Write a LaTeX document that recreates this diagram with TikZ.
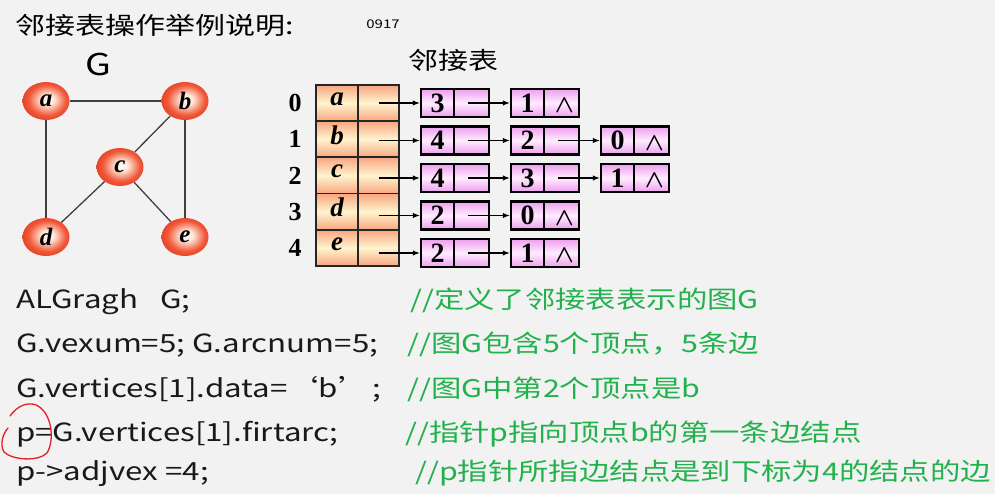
\documentclass[tikz,border=0pt]{standalone}
\usepackage{fontspec}
\setmainfont{Liberation Serif}
\newfontfamily\cjk[FakeStretch=1.25]{Noto Sans CJK SC}
\newfontfamily\tms{Liberation Serif}
\usetikzlibrary{arrows.meta,shapes.geometric}
\definecolor{bg}{RGB}{243,242,242}
\definecolor{vred}{RGB}{240,88,56}
\definecolor{vedge}{RGB}{232,72,44}
\definecolor{vlight}{RGB}{255,228,214}
\definecolor{tabout}{RGB}{248,166,128}
\definecolor{tabin}{RGB}{255,244,206}
\definecolor{pinkout}{RGB}{238,158,238}
\definecolor{pinkin}{RGB}{255,236,255}
\definecolor{cgreen}{RGB}{34,177,76}
\definecolor{annot}{RGB}{230,30,40}
\pgfdeclareradialshading{vball}{\pgfpoint{2bp}{2bp}}{color(0bp)=(white); color(7bp)=(vlight); color(20bp)=(vred); color(25bp)=(vedge); color(50bp)=(vedge)}
\begin{document}
\begin{tikzpicture}[x=1pt,y=-1pt,
  vtx/.style={ellipse, minimum width=47pt, minimum height=38pt, inner sep=0pt, shading=vball, font=\tms\bfseries\itshape\fontsize{25}{25}\selectfont},
  gedge/.style={draw=black!75, line width=1.3pt},
  tcell/.style={draw=black!85, line width=1.8pt, minimum height=36.2pt, inner sep=0pt, shading=axis, top color=tabout, bottom color=tabout, middle color=tabin},
  tlet/.style={inner sep=0pt, font=\tms\bfseries\itshape\fontsize{27}{27}\selectfont},
  idx/.style={inner sep=0pt, font=\tms\bfseries\fontsize{26}{26}\selectfont},
  ecell/.style={draw=black, line width=2.4pt, minimum height=28pt, inner sep=0pt, shading=axis, top color=pinkout, bottom color=pinkout, middle color=pinkin, font=\tms\bfseries\fontsize{28}{28}\selectfont},
  ptr/.style={draw=black, line width=1.2pt, -{Latex[length=7pt,width=5.5pt]}},
  nilsym/.style={inner sep=0pt, font=\boldmath\fontsize{24}{24}\selectfont},
  code/.style={anchor=base west, inner sep=0pt, font=\cjk\fontsize{25}{25}\selectfont, text=black!90},
  cmt/.style={anchor=base west, inner sep=0pt, font=\cjk\fontsize{24.3}{24.3}\selectfont, text=cgreen}
]
\fill[bg] (0,0) rectangle (995,494);
\useasboundingbox (0,0) rectangle (995,494);

% title
\node[anchor=base west, inner sep=0pt, font=\cjk\fontsize{24}{24}\selectfont] (title) at (15,35) {邻接表操作举例说明:};
\node[inner sep=0pt, font=\cjk\fontsize{12}{12}\selectfont] (num) at (383,24) {0917};
\node[inner sep=0pt, font=\cjk\fontsize{30}{30}\selectfont] (glabel) at (98,65) {G};
\node[inner sep=0pt, font=\cjk\fontsize{24}{24}\selectfont] (tlabel) at (453,60) {邻接表};

% graph
\node[vtx] (a) at (46,101) {a};
\node[vtx] (b) at (185,101) {b};
\node[vtx] (c) at (120,167) {c};
\node[vtx] (d) at (46,237) {d};
\node[vtx] (e) at (185,237) {e};
\draw[gedge] (a) -- (b);
\draw[gedge] (a) -- (d);
\draw[gedge] (b) -- (c);
\draw[gedge] (b) -- (e);
\draw[gedge] (c) -- (d);
\draw[gedge] (c) -- (e);

% vertex table
\foreach \i/\l in {0/a,1/b,2/c,3/d,4/e}{
  \pgfmathsetmacro{\ry}{85+36.2*(\i+0.5)}
  \node[tcell, minimum width=42pt] (vd\i) at (337,\ry) {};
  \node[tcell, minimum width=41pt] (vp\i) at (378.5,\ry) {};
  \node[tlet] (vl\i) at ([yshift=4pt]vd\i.center) {\l};
  \node[idx] (ix\i) at (295,\ry) {\i};
}

% edge lists
\foreach \r/\ey/\lst in {0/103/{3,1}, 1/140.5/{4,2,0}, 2/178/{4,3,1}, 3/215.5/{2,0}, 4/253/{2,1}}{
  \foreach \v [count=\k] in \lst {
    \pgfmathsetmacro{\lx}{421+90*(\k-1)}
    \node[ecell, minimum width=33pt] (e\r\k d) at (\lx+16.5,\ey) {\v};
    \node[ecell, minimum width=35pt] (e\r\k p) at (\lx+50.5,\ey) {};
    \xdef\lastk{\k}
  }
  \draw[ptr] (vp\r.center |- e\r1d.west) -- (e\r1d.west);
  \node[nilsym] (nil\r) at ([xshift=3pt,yshift=-3pt]e\r\lastk p.center) {$\wedge$};
}
\foreach \r/\k/\n in {0/1/2, 1/1/2, 1/2/3, 2/1/2, 2/2/3, 3/1/2, 4/1/2}{
  \draw[ptr] ([xshift=-4pt]e\r\k p.center) -- (e\r\n d.west);
}

% code lines
\node[code] (c1) at (16,308) {ALGragh\hspace{22pt}G;};
\node[cmt] (m1) at (410,308) {//定义了邻接表表示的图G};
\node[code] (c2) at (16,352) {G.vexum=5; G.arcnum=5;};
\node[cmt] (m2) at (407,352) {//图G包含5个顶点，5条边};
\node[code] (c3) at (16,397) {G.vertices[1].data=‘b’\hspace{3pt};};
\node[cmt] (m3) at (407,397) {//图G中第2个顶点是b};
\node[code] (c4) at (16,441) {p=G.vertices[1].firtarc;};
\node[cmt] (m4) at (405,441) {//指针p指向顶点b的第一条边结点};
\node[code] (c5) at (16,480) {p->adjvex =4;};
\node[cmt] (m5) at (415,480) {//p指针所指边结点是到下标为4的结点的边};

% red annotation
\draw[annot, line width=1.3pt, line cap=round] (10,416) .. controls (18,405) and (28,402) .. (36,405) .. controls (52,412) and (55,440) .. (47,453) .. controls (38,462) and (12,460) .. (4,452) .. controls (0,445) and (2,435) .. (8,428);
\end{tikzpicture}
\end{document}
